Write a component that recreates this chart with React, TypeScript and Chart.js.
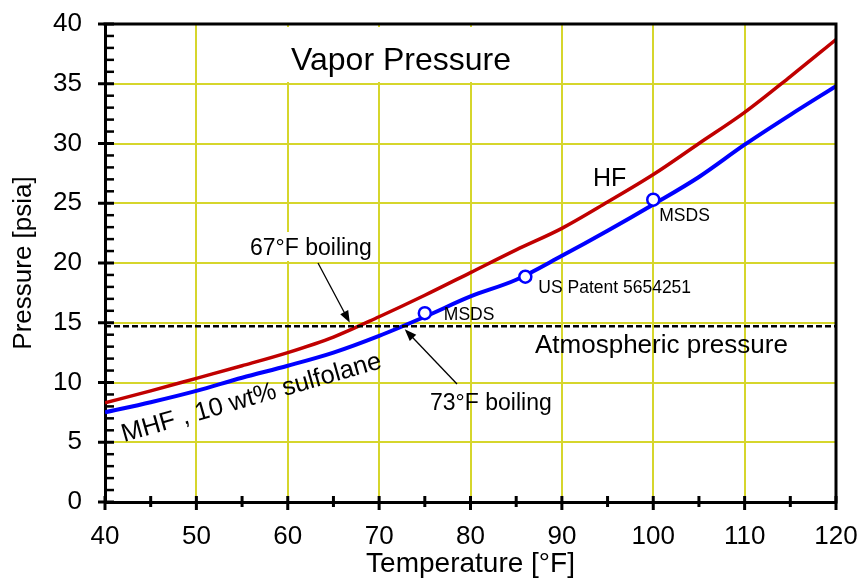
import React, { useEffect, useRef } from 'react';
import { Chart, registerables } from 'chart.js';

Chart.register(...registerables);

// ---- data ----
const temperatures = [40, 45, 50, 55, 60, 65, 70, 75, 80, 85, 90, 95, 100, 105, 110, 115, 120];
const hfPressure = [8.3, 9.3, 10.35, 11.4, 12.5, 13.8, 15.5, 17.3, 19.2, 21.1, 22.9, 25.1, 27.4, 30.0, 32.6, 35.6, 38.7];
const mhfPressure = [7.5, 8.35, 9.3, 10.4, 11.4, 12.5, 13.9, 15.5, 17.2, 18.6, 20.6, 22.7, 24.9, 27.2, 29.9, 32.4, 34.8];
const markerTemps = [75, 86, 100];
const markerPressures = [15.8, 18.85, 25.3];
const markerLabels = ['MSDS', 'US Patent 5654251', 'MSDS'];
const atmosphericPressure = 14.7;
const atmosphericRange = [40, 120];
const boilingHF = 67;
const boilingMHF = 72.5;

const FONT = '"Liberation Sans", Arial, Helvetica, sans-serif';
const GRID = '#d6d62c';
const RED = '#c00000';
const BLUE = '#0000ff';

const annotationPlugin = {
  id: 'vaporAnnotations',
  beforeDatasetsDraw(chart: any) {
    const ctx = chart.ctx;
    ctx.save();
    ctx.fillStyle = '#ffffff';
    // white box behind title
    ctx.fillRect(266, 27, 272, 55);
    // white box behind 67°F label
    ctx.fillRect(246, 232, 132, 29);
    ctx.restore();
  },
  afterDraw(chart: any) {
    const ctx = chart.ctx;
    const { left, right, top, bottom } = chart.chartArea;
    const xs = chart.scales.x;
    const ys = chart.scales.y;
    ctx.save();
    // top & right border
    ctx.strokeStyle = '#000';
    ctx.lineWidth = 3;
    ctx.beginPath();
    ctx.moveTo(left - 1.5, top);
    ctx.lineTo(right, top);
    ctx.lineTo(right, bottom + 1.5);
    ctx.stroke();

    // y ticks
    for (let v = 0; v <= 40; v += 1) {
      const y = ys.getPixelForValue(v);
      const major = v % 5 === 0;
      ctx.lineWidth = major ? 3 : 2.5;
      ctx.beginPath();
      ctx.moveTo(major ? left - 7 : left, y);
      ctx.lineTo(left + 9, y);
      ctx.stroke();
    }
    // x ticks
    for (let v = 40; v <= 120; v += 5) {
      const x = xs.getPixelForValue(v);
      const major = v % 10 === 0;
      ctx.lineWidth = 3;
      ctx.beginPath();
      ctx.moveTo(x, bottom - 6);
      ctx.lineTo(x, bottom + (major ? 8 : 5));
      ctx.stroke();
    }

    ctx.fillStyle = '#000';
    ctx.textBaseline = 'alphabetic';

    // title
    ctx.font = `32px ${FONT}`;
    ctx.textAlign = 'center';
    ctx.fillText('Vapor Pressure', 401, 70);

    // HF
    ctx.textAlign = 'left';
    ctx.font = `25px ${FONT}`;
    ctx.fillText('HF', 593, 186);

    // marker labels
    ctx.font = `17.5px ${FONT}`;
    const offsets = [
      [19, 7],
      [13, 16],
      [6, 21],
    ];
    markerTemps.forEach((t, i) => {
      const x = xs.getPixelForValue(t);
      const y = ys.getPixelForValue(markerPressures[i]);
      ctx.fillText(markerLabels[i], x + offsets[i][0], y + offsets[i][1]);
    });

    // atmospheric pressure
    ctx.font = `26px ${FONT}`;
    ctx.fillText('Atmospheric pressure', 535, 353);

    // boiling labels
    ctx.font = `23px ${FONT}`;
    ctx.fillText('67°F boiling', 250, 255);
    ctx.fillText('73°F boiling', 430, 410);

    // rotated MHF label
    ctx.save();
    ctx.translate(124, 442);
    ctx.rotate((-16 * Math.PI) / 180);
    ctx.font = `25.5px ${FONT}`;
    ctx.fillText('MHF , 10 wt% sulfolane', 0, 0);
    ctx.restore();

    // arrows
    const arrow = (sx: number, sy: number, tx: number, ty: number) => {
      const dx = tx - sx;
      const dy = ty - sy;
      const len = Math.hypot(dx, dy);
      const ux = dx / len;
      const uy = dy / len;
      const ex = tx - ux * 4;
      const ey = ty - uy * 4;
      ctx.strokeStyle = '#000';
      ctx.lineWidth = 1.3;
      ctx.beginPath();
      ctx.moveTo(sx, sy);
      ctx.lineTo(ex - ux * 8, ey - uy * 8);
      ctx.stroke();
      const hl = 12;
      const hw = 4.5;
      ctx.beginPath();
      ctx.moveTo(ex, ey);
      ctx.lineTo(ex - ux * hl - uy * hw, ey - uy * hl + ux * hw);
      ctx.lineTo(ex - ux * hl + uy * hw, ey - uy * hl - ux * hw);
      ctx.closePath();
      ctx.fill();
    };
    const pyA = ys.getPixelForValue(atmosphericPressure);
    arrow(318, 263, xs.getPixelForValue(boilingHF), pyA);
    arrow(457, 384, xs.getPixelForValue(boilingMHF), pyA);

    ctx.restore();
  },
};

export default function App() {
  const canvasRef = useRef<HTMLCanvasElement | null>(null);

  useEffect(() => {
    const canvas = canvasRef.current;
    if (!canvas) return;
    const chart = new Chart(canvas, {
      type: 'line',
      data: {
        datasets: [
          {
            label: 'Markers',
            data: markerTemps.map((t, i) => ({ x: t, y: markerPressures[i] })),
            showLine: false,
            pointRadius: 6,
            pointBorderWidth: 2.5,
            pointBorderColor: BLUE,
            pointBackgroundColor: '#ffffff',
            borderColor: BLUE,
            backgroundColor: '#ffffff',
            order: 0,
          },
          {
            label: 'Atmospheric',
            data: atmosphericRange.map((t) => ({ x: t, y: atmosphericPressure })),
            borderColor: '#000',
            borderWidth: 2.5,
            borderDash: [6, 3],
            pointRadius: 0,
            order: 1,
          },
          {
            label: 'MHF',
            data: temperatures.map((t, i) => ({ x: t, y: mhfPressure[i] })),
            borderColor: BLUE,
            borderWidth: 4,
            pointRadius: 0,
            cubicInterpolationMode: 'monotone',
            order: 2,
          },
          {
            label: 'HF',
            data: temperatures.map((t, i) => ({ x: t, y: hfPressure[i] })),
            borderColor: RED,
            borderWidth: 3.5,
            pointRadius: 0,
            cubicInterpolationMode: 'monotone',
            order: 3,
          },
        ],
      },
      options: {
        animation: false,
        responsive: false,
        maintainAspectRatio: false,
        layout: { padding: { left: 0, top: 24, right: 25, bottom: 0 } },
        plugins: {
          legend: { display: false },
          tooltip: { enabled: false },
          title: { display: false },
        },
        scales: {
          x: {
            type: 'linear',
            min: 40,
            max: 120,
            afterFit: (s: any) => {
              s.height = 79;
              s.paddingLeft = 0;
              s.paddingRight = 0;
            },
            ticks: {
              stepSize: 10,
              padding: 19,
              color: '#000',
              font: { family: FONT, size: 26 },
              maxRotation: 0,
            },
            grid: {
              drawTicks: false,
              lineWidth: 2,
              color: (c: any) => (c.tick && (c.tick.value === 40 || c.tick.value === 120) ? 'rgba(0,0,0,0)' : GRID),
            },
            border: { display: true, color: '#000', width: 3 },
            title: {
              display: true,
              text: 'Temperature [°F]',
              color: '#000',
              font: { family: FONT, size: 28 },
              padding: { top: 0, bottom: 0 },
            },
          },
          y: {
            type: 'linear',
            min: 0,
            max: 40,
            afterFit: (s: any) => {
              s.width = 105;
              s.paddingTop = 0;
              s.paddingBottom = 0;
            },
            ticks: {
              stepSize: 5,
              padding: 23,
              color: '#000',
              font: { family: FONT, size: 26 },
            },
            grid: {
              drawTicks: false,
              lineWidth: 2,
              color: (c: any) => (c.tick && (c.tick.value === 0 || c.tick.value === 40) ? 'rgba(0,0,0,0)' : GRID),
            },
            border: { display: true, color: '#000', width: 3 },
            title: {
              display: true,
              text: 'Pressure [psia]',
              color: '#000',
              font: { family: FONT, size: 26 },
              padding: { top: 8, bottom: 0 },
            },
          },
        },
      },
      plugins: [annotationPlugin],
    } as any);
    return () => chart.destroy();
  }, []);

  return (
    <div style={{ position: 'absolute', left: 0, top: 0, width: 861, height: 581, background: '#fff' }}>
      <canvas ref={canvasRef} width={861} height={581} style={{ display: 'block' }} />
    </div>
  );
}
